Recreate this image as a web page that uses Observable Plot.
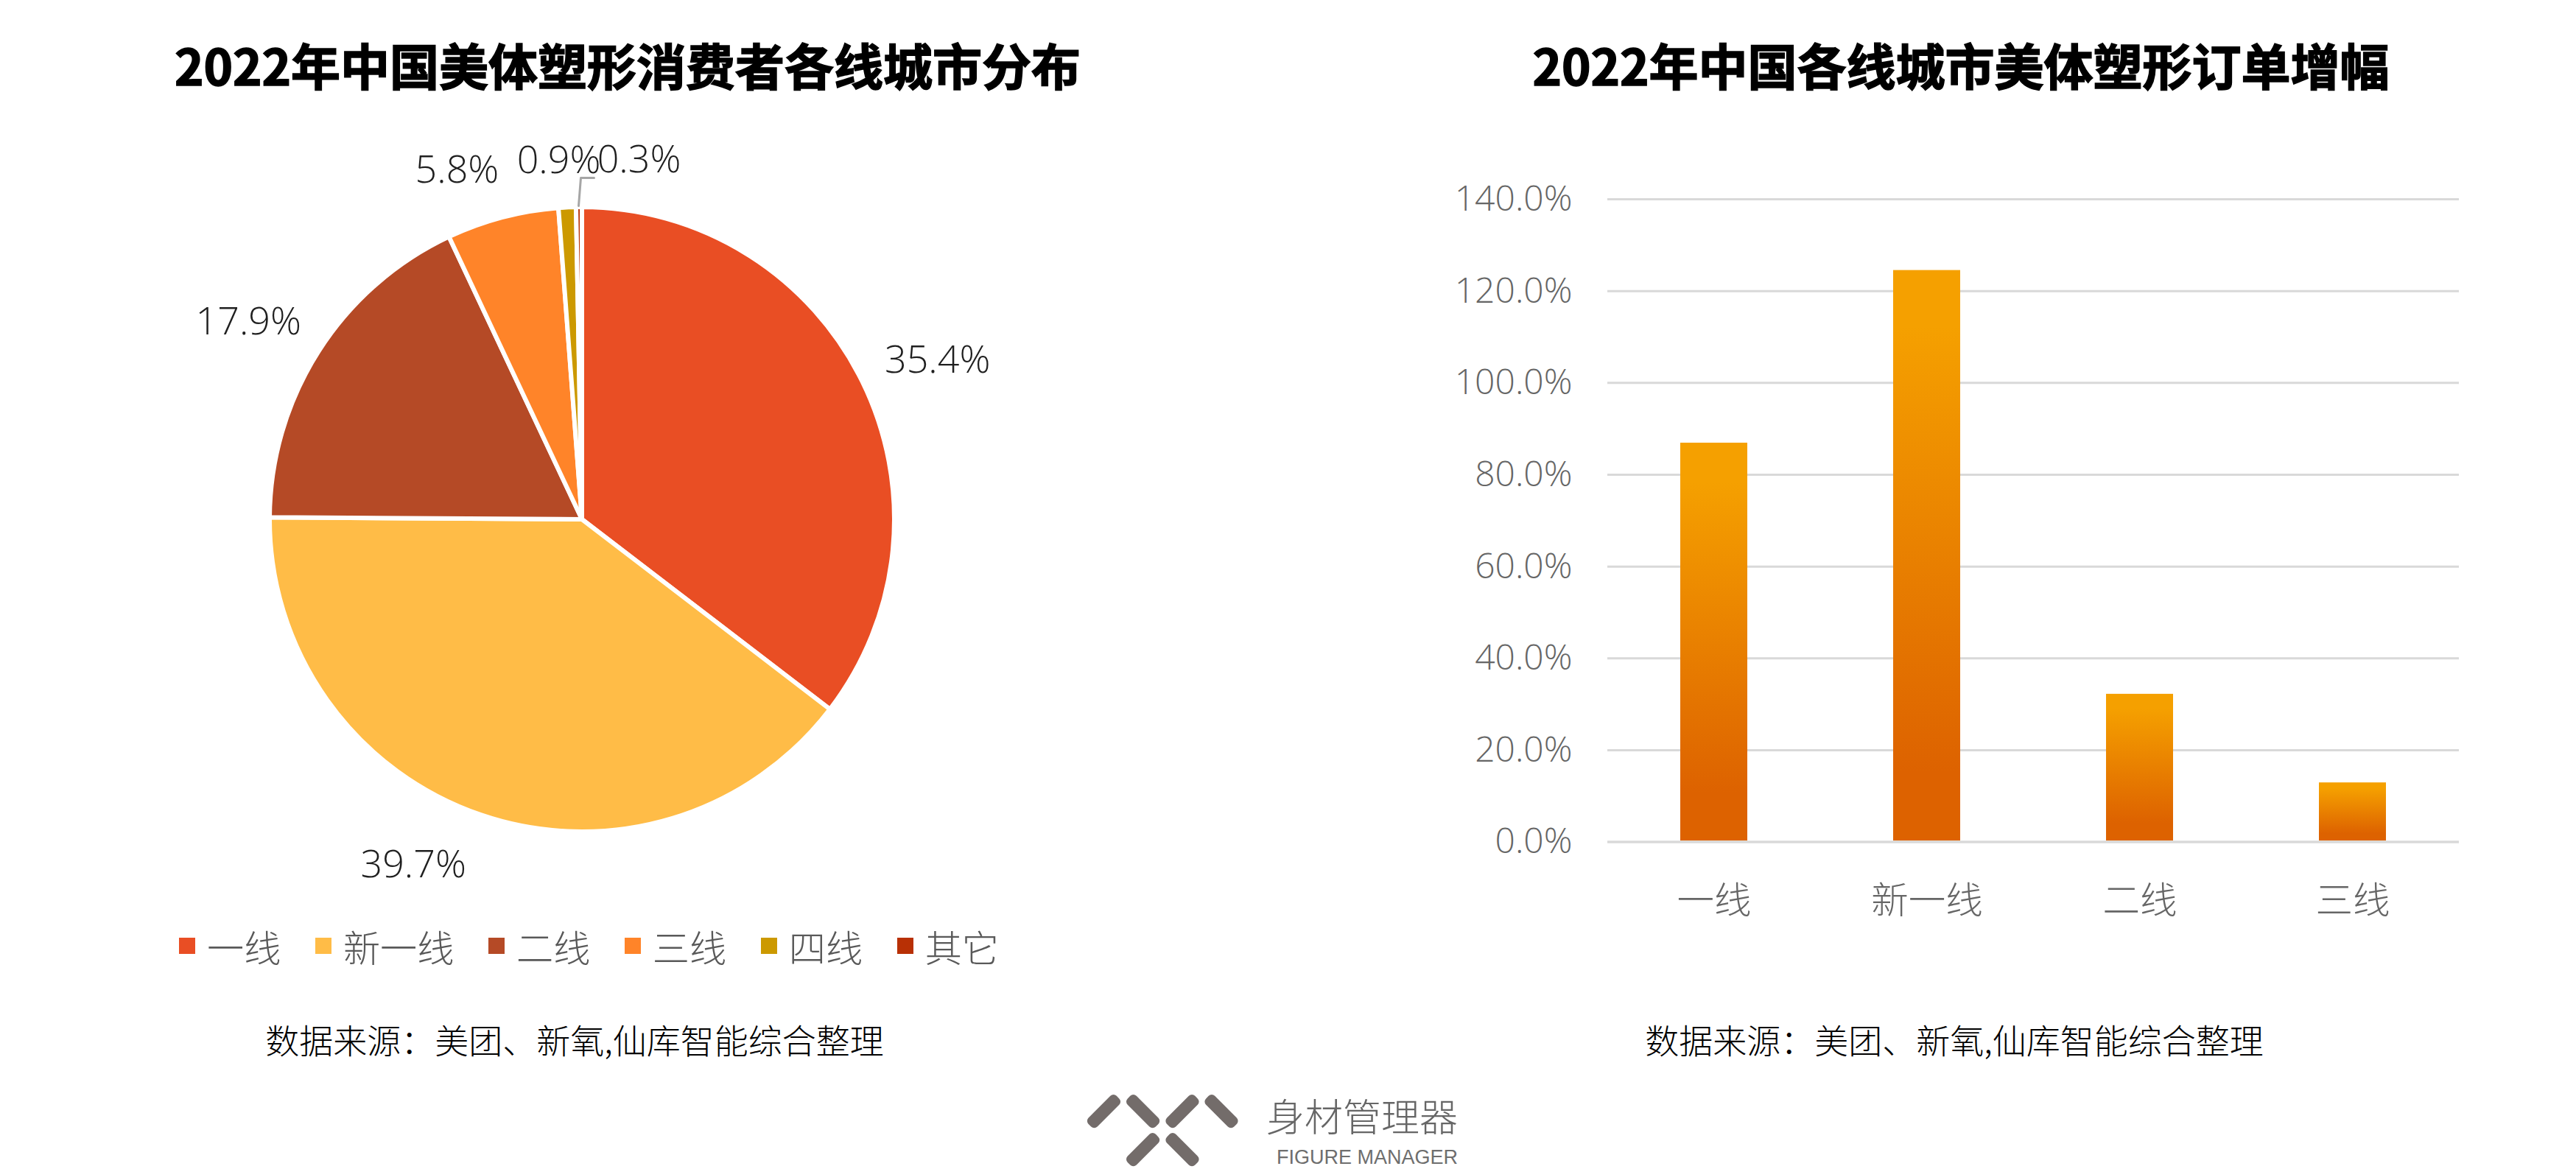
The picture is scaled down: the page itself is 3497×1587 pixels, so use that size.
<!DOCTYPE html>
<html lang="zh-CN">
<head>
<meta charset="utf-8">
<script src="https://cdn.jsdelivr.net/npm/d3@7"></script>
<script src="https://cdn.jsdelivr.net/npm/@observablehq/plot@0.6"></script>
<style>
  html, body { margin: 0; padding: 0; background: #fff; }
  #page { position: relative; width: 3497px; height: 1587px; overflow: hidden; background: #fff;
          font-family: "Open Sans", "Noto Sans CJK SC", sans-serif; }
  #page > * { position: absolute; }
  .title { font-family: "Noto Sans CJK SC", sans-serif; font-weight: 700; font-size: 67px; line-height: 80px;
           color: #000; white-space: nowrap; transform: translateX(-50%); top: 47px; -webkit-text-stroke: 1.6px #000; }
  .source { font-family: "Noto Sans CJK SC", sans-serif; font-weight: 300; font-size: 46px; line-height: 60px; color: #000;
            white-space: nowrap; transform: translateX(-50%); top: 1380px; }
  #legend { left: 243px; top: 1250px; display: flex; align-items: center; gap: 46.5px;
            font-family: "Noto Sans CJK SC", sans-serif; font-weight: 300; font-size: 50.2px; line-height: 68px; color: #595959; white-space: nowrap; }
  #legend .item { display: flex; align-items: center; gap: 16px; }
  #legend .sw { width: 22px; height: 22px; display: block; }
  #brand { left: 1719px; top: 1483px; width: 260px; text-align: right; font-family: "Noto Sans CJK SC", sans-serif; font-weight: 300;
           font-size: 52px; line-height: 62px; color: #666; white-space: nowrap; }
  #brandEn { left: 1679px; top: 1559px; width: 300px; text-align: right; font-family: "Liberation Sans", sans-serif; font-weight: 400;
           font-size: 27px; line-height: 24px; color: #6e6e6e; white-space: nowrap; }
  #logo { left: 1450px; top: 1470px; }
</style>
</head>
<body>
<div id="page">
  <div class="title" style="left:852px">2022年中国美体塑形消费者各线城市分布</div>
  <div class="title" style="left:2662px">2022年中国各线城市美体塑形订单增幅</div>
  <div id="legend"></div>
  <div class="source" style="left:780px">数据来源：美团、新氧,仙库智能综合整理</div>
  <div class="source" style="left:2653px">数据来源：美团、新氧,仙库智能综合整理</div>
  <svg id="logo" width="240" height="117" viewBox="0 0 240 117" fill="#736c6a">
    <rect x="-27" y="-8.5" width="54" height="17" rx="6" transform="translate(48.5 38.7) rotate(-45)"/>
    <rect x="-27" y="-8.5" width="54" height="17" rx="6" transform="translate(101.6 38.7) rotate(45)"/>
    <rect x="-27" y="-8.5" width="54" height="17" rx="6" transform="translate(155 38.7) rotate(-45)"/>
    <rect x="-27" y="-8.5" width="54" height="17" rx="6" transform="translate(208 38.7) rotate(45)"/>
    <rect x="-27" y="-8.5" width="54" height="17" rx="6" transform="translate(101.6 90.7) rotate(-45)"/>
    <rect x="-27" y="-8.5" width="54" height="17" rx="6" transform="translate(155 90.7) rotate(45)"/>
  </svg>
  <div id="brand">身材管理器</div>
  <div id="brandEn">FIGURE MANAGER</div>
</div>
<script>
// ---- data ----
const pieCategories = ["一线", "新一线", "二线", "三线", "四线", "其它"];
const pieValues = [35.4, 39.7, 17.9, 5.8, 0.9, 0.3];
const pieColors = ["#E94E24", "#FFBC47", "#B54A26", "#FF8429", "#CC9900", "#B83005"];

const barCategories = ["一线", "新一线", "二线", "三线"];
const barValues = [86.9, 124.5, 32.2, 12.9];
const yTicks = [0, 20, 40, 60, 80, 100, 120, 140];

// label offsets from each slice's outer edge (px), kept apart from the data
const labelOffsets = [[102, -28], [-92, 68], [-96, -40], [-62, -64], [-12, -64], [81, -64]];
// callout elbow for the smallest slice (px from its outer edge)
const leaderSteps = [[-1, -2], [2, -40], [20, -40]];

const FONT = '"Open Sans", "Noto Sans CJK SC", sans-serif';
const CJK = '"Noto Sans CJK SC", sans-serif';

// ---- left: pie ----
const W = 1748, H = 1240, CX = 790, CY = 705, R = 424;
const table = pieCategories.map((name, i) => ({name, value: pieValues[i]}));
const arcs = d3.pie().sort(null).value(d => d.value)(table);
const edge = a => {
  const m = (a.startAngle + a.endAngle) / 2;
  return [Math.sin(m) * R, Math.cos(m) * R];
};

const pieMark = (index, {x, y, color}) => {
  const arc = d3.arc().innerRadius(0).outerRadius(R);
  const g = d3.create("svg:g").attr("transform", `translate(${x(0)},${y(0)})`);
  g.selectAll("path").data(arcs).join("path")
    .attr("d", arc)
    .attr("fill", d => color(d.data.name))
    .attr("stroke", "#fff")
    .attr("stroke-width", 6)
    .attr("stroke-linejoin", "miter");
  return g.node();
};

const labelMarks = arcs.map((a, i) => {
  const [ex, ey] = edge(a);
  return Plot.text([a], {
    x: () => ex, y: () => ey,
    text: () => a.data.value.toFixed(1) + "%",
    dx: labelOffsets[i][0], dy: labelOffsets[i][1],
    fontSize: 52, fontWeight: 300, fill: "#1f1f1f", textAnchor: "middle", lineAnchor: "middle"
  });
});

const [lx, ly] = edge(arcs[5]);
const leader = Plot.line(leaderSteps, {
  x: d => lx + d[0], y: d => ly - d[1],
  stroke: "#a6a6a6", strokeWidth: 3, curve: "linear"
});

const pie = Plot.plot({
  width: W, height: H,
  marginLeft: 0, marginRight: 0, marginTop: 0, marginBottom: 0,
  style: {fontFamily: FONT, background: "transparent", overflow: "visible"},
  x: {type: "linear", domain: [-CX, W - CX], range: [0, W], axis: null},
  y: {type: "linear", domain: [CY, CY - H], range: [0, H], axis: null},
  color: {domain: pieCategories, range: pieColors},
  marks: [pieMark, leader, ...labelMarks]
});
pie.style.position = "absolute";
pie.style.left = "0px";
pie.style.top = "0px";
document.getElementById("page").prepend(pie);

// ---- legend ----
const legend = d3.select("#legend");
pieCategories.forEach((name, i) => {
  const item = legend.append("div").attr("class", "item");
  item.append("span").attr("class", "sw").style("background", pieColors[i]);
  item.append("span").text(name);
});

// ---- right: bars ----
const barTable = barCategories.map((name, i) => ({name, value: barValues[i]}));
const gradient = () => {
  const defs = d3.create("svg:defs");
  const lg = defs.append("linearGradient").attr("id", "barGrad")
    .attr("x1", 0).attr("y1", 0).attr("x2", 0).attr("y2", 1);
  lg.append("stop").attr("offset", "10%").attr("stop-color", "#F5A000");
  lg.append("stop").attr("offset", "88%").attr("stop-color", "#DD6200");
  return defs.node();
};

const BW = 1749, BH = 1300;
const gridStyle = {stroke: "#d9d9d9", strokeWidth: 3, strokeOpacity: 1};
const bars = Plot.plot({
  width: BW, height: BH,
  marginLeft: 434, marginRight: 159, marginTop: 270, marginBottom: BH - 1142.6,
  style: {fontFamily: FONT, background: "transparent", overflow: "visible"},
  x: {domain: barCategories, paddingInner: 0.685, paddingOuter: 0.3425, label: null},
  y: {domain: [0, 140], label: null},
  marks: [
    gradient,
    Plot.gridY(yTicks, gridStyle),
    Plot.axisY({ticks: yTicks, tickSize: 0, tickPadding: 48, fontSize: 48, fontWeight: 300,
                tickFormat: d => d.toFixed(1) + "%", color: "#666", label: null}),
    Plot.axisX({tickSize: 0, tickPadding: 61, fontSize: 50.5, fontFamily: CJK, fontWeight: 300,
                color: "#666", label: null}),
    Plot.barY(barTable, {x: "name", y: "value", fill: "url(#barGrad)", insetBottom: 1.5}),
    Plot.ruleY([0], gridStyle)
  ]
});
bars.style.position = "absolute";
bars.style.left = "1748px";
bars.style.top = "0px";
document.getElementById("page").prepend(bars);
</script>
</body>
</html>
